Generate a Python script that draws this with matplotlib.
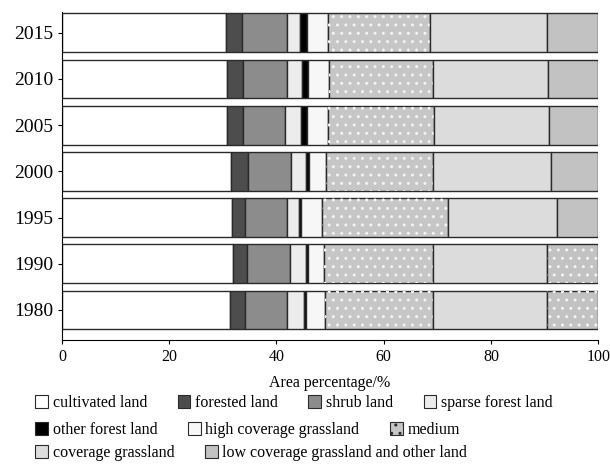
import numpy as np
import matplotlib.pyplot as plt
from matplotlib.patches import Patch

plt.rcParams['font.family'] = ['Liberation Serif', 'DejaVu Serif']

# ----- date -----
years = ["1980", "1990", "1995", "2000", "2005", "2010", "2015"]
categories = ["cultivated land", "forested land", "shrub land", "sparse forest land",
              "other forest land", "high coverage grassland", "medium",
              "coverage grassland", "low coverage grassland and other land"]

cultivated = [31.3, 31.9, 31.7, 31.5, 30.8, 30.8, 30.6]
forested = [2.8, 2.6, 2.4, 3.2, 3.0, 3.0, 3.0]
shrub = [7.9, 8.0, 7.9, 8.0, 7.8, 8.2, 8.4]
sparse = [3.1, 3.0, 2.2, 2.8, 3.0, 2.8, 2.4]
other_forest = [0.4, 0.4, 0.4, 0.6, 1.1, 1.1, 1.3]
high_grass = [3.6, 3.0, 3.9, 3.2, 3.9, 3.9, 3.9]
medium_grass = [20.1, 20.3, 23.5, 19.9, 19.8, 19.4, 19.1]
cov_grass = [21.3, 21.3, 20.4, 22.0, 21.5, 21.5, 21.8]
low_grass = [9.5, 9.5, 7.6, 8.8, 9.1, 9.3, 9.5]

series = [cultivated, forested, shrub, sparse, other_forest,
          high_grass, medium_grass, cov_grass, low_grass]

colors = ["#ffffff", "#4d4d4d", "#8c8c8c", "#ececec", "#000000",
          "#f7f7f7", "#c6c6c6", "#dcdcdc", "#c2c2c2"]
hatches = [None, None, None, None, None, None, "..", None, None]
# in reference, ultimul segment e punctat doar la 1980 si 1990
low_hatched_years = ["1980", "1990"]

fig = plt.figure(figsize=(6.1, 4.68), dpi=100)
ax = fig.add_axes([0.1016, 0.2735, 0.879, 0.701])

y = np.arange(len(years))
left = np.zeros(len(years))
for i, vals in enumerate(series):
    vals = np.array(vals)
    ax.barh(y, vals, left=left, height=0.84, color=colors[i],
            edgecolor="#2a2a2a", linewidth=1.0)
    if hatches[i]:
        ax.barh(y, vals, left=left, height=0.84, facecolor="none",
                edgecolor="#f2f2f2", hatch=hatches[i], linewidth=0)
    if i == len(series) - 1:
        for j, yr in enumerate(years):
            if yr in low_hatched_years:
                ax.barh(y[j], vals[j], left=left[j], height=0.84, facecolor="none",
                        edgecolor="#f2f2f2", hatch="..", linewidth=0)
    left += vals

ax.set_xlim(0, 100)
ax.set_ylim(-0.65, 6.45)
ax.set_yticks(y)
ax.set_yticklabels(years, fontsize=14)
ax.set_xticks([0, 20, 40, 60, 80, 100])
ax.tick_params(axis="x", labelsize=11.5, length=3)
ax.tick_params(axis="y", length=3)
ax.spines["top"].set_visible(False)
ax.spines["right"].set_visible(False)
ax.set_xlabel("Area percentage/%", fontsize=11.5, labelpad=7)

handles = []
for i, c in enumerate(categories):
    handles.append(Patch(facecolor=colors[i], edgecolor="#2a2a2a",
                         hatch=hatches[i], linewidth=0.8, label=c))

rows = [[0, 1, 2, 3], [4, 5, 6], [7, 8]]
row_y = [0.139, 0.081, 0.032]
for r, yy in zip(rows, row_y):
    fig.legend([handles[k] for k in r], [categories[k] for k in r],
               loc="center left", bbox_to_anchor=(0.058, yy), ncol=len(r),
               frameon=False, fontsize=11.5, handlelength=0.8, handleheight=0.8,
               handletextpad=0.3, columnspacing=1.9, borderpad=0, borderaxespad=0)

fig.savefig("out.png", dpi=100)
